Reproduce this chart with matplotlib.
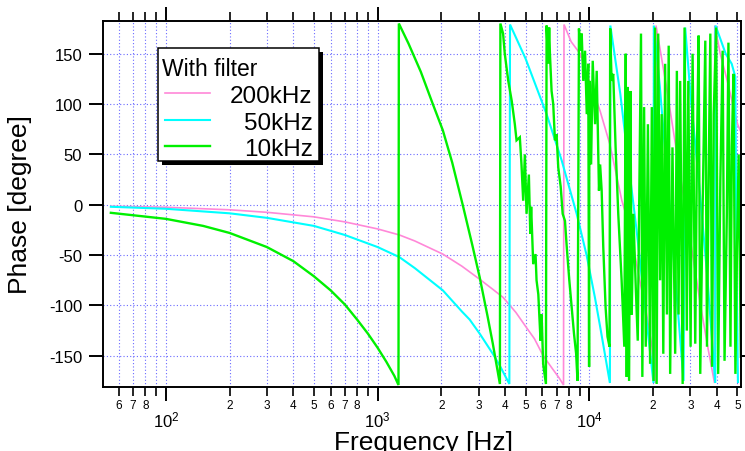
import numpy as np
import matplotlib
matplotlib.use("Agg")
import matplotlib.pyplot as plt
import matplotlib.ticker as ticker
from matplotlib.patches import Rectangle
from matplotlib.lines import Line2D

plt.rcParams["font.family"] = ["Liberation Sans", "DejaVu Sans"]
plt.rcParams["mathtext.fontset"] = "custom"
plt.rcParams["mathtext.rm"] = "Liberation Sans"
plt.rcParams["mathtext.it"] = "Liberation Sans:italic"
plt.rcParams["axes.unicode_minus"] = False

# ── Data ─────────────────────────────────────────────────────────────────────
pink_f = [55, 100, 200, 300, 500, 700, 1000, 1267, 1500, 2032, 2500, 3034, 3500,
          3913, 4500, 5046, 5500, 6053, 6700, 7200, 7550, 7590, 8200, 9040, 10000,
          11240, 12500, 14240, 15500, 17060, 18500, 19760, 20470, 20640, 23000,
          25500, 28000, 30500, 33500, 36500, 39000, 39100, 41500, 44800, 47500,
          50100, 52000]
pink_p = [-1.5, -2.5, -5, -7.5, -12, -17, -24, -30, -36, -49, -61, -74, -84,
          -92, -107, -122, -133, -150, -163, -172, -179, 179, 162, 150, 123,
          93, 60, 4, -22, -69, -105, -141, -177, 178, 120,
          60, 5, -45, -100, -145, -177, 178, 150, 123, 100,
          80, 72]

cyan_f = [55, 100, 200, 300, 500, 700, 1000, 1267, 1500, 2032, 2500, 2720, 3034,
          3500, 3780, 4190, 4220, 5000, 6280, 7400, 8710, 9700, 10620, 11240,
          12500, 12560, 14000, 15320, 16700, 18030, 20080, 20150, 21500, 23280,
          25500, 27850, 28350, 30000, 33000, 36000, 39300, 39400, 41500, 44000,
          47000, 48900, 49500, 50300]
cyan_p = [-2, -4, -8.5, -13, -21, -30, -42, -52, -63, -85, -106, -114, -128,
          -148, -160, -178, 179, 145, 90, 44, -9, -50, -92, -121,
          -177, 178, 110, 40, -25, -88, -177, 178, 118, 30,
          -75, -175, 176, 110, 20, -70, -177, 178, 165, 150,
          140, 127, -60, -176]

green_f = [55, 100, 150, 200, 300, 400, 500, 600, 700, 800, 900, 1000, 1100, 1200,
           1255, 1260, 1400, 1600, 1823, 2032, 2250, 2529, 2800, 3034, 3300, 3500,
           3746, 3780, 3800, 3913, 3986, 4140, 4300, 4446, 4530, 4695, 4780, 4870,
           4959, 5050, 5180, 5260, 5310, 5430, 5570, 5630, 5740, 5800, 5880, 5950,
           6050, 6235, 6280, 6390, 6460, 6512, 6630, 6750, 6877, 7000, 7130, 7320,
           7480, 7670, 7820, 8040, 8250, 8460, 8660, 8790, 8930, 9040, 9200, 9360,
           9540, 9720, 9880, 9970, 10000, 10190, 10370, 10640, 10830, 11100, 11240,
           11430, 11630, 11930, 12180, 12450, 12540, 12730, 12960, 13300, 13690,
           14200, 14620, 14850, 15010, 15180, 15400, 15620, 15850, 16130, 16560,
           16920, 17530, 17790, 18130, 18460, 18900, 19350, 19720, 20100, 20430,
           20780, 21140, 21580, 21950, 22340, 22790, 23240, 23690, 24070, 24680,
           25420, 25890, 26370, 26840, 27570, 28150, 28850, 29320, 30060, 30720,
           31620, 32220, 32800, 33390, 34230, 35270, 35920, 36560, 37250, 37950,
           38650, 39700, 40560, 41540, 42590, 43480, 44580, 45360, 46370, 47080,
           47900, 48930, 49800, 50690, 51920]
green_p = [-8, -14, -21, -28, -42, -56, -71, -85, -99, -114, -128, -142, -156, -170,
           -179, 180, 160, 132, 100, 74, 42, -1, -40, -72, -110, -138,
           -173, -178, 180, 170, 150, 123, 103, 80, 64, 67, 40, 4,
           50, -9, 30, -29, -2, -59, -49, -75, -89, -109, -135, -109,
           -158, -178, 178, 140, 176, 150, 113, 100, 64, 70, 37, 18,
           -9, -16, -42, -75, -102, -128, -148, -175, 175, 153, 170, 123,
           153, 90, 140, -161, 123, 40, 143, 80, 133, 14, 40,
           14, -42, -102, -131, -141, 175, 123, 130, 57, -9,
           -75, -141, 150, -171, 117, -175, 113, -109, -9, -82,
           -135, 170, -171, 97, -141, 80, -158, 97, -175, 176,
           -178, 170, -75, 90, -148, 140, -109, 158, -168, 57,
           -148, 133, -109, 123, -178, 176, -125, 123, -141, 150,
           -138, 57, 168, -168, -9, 163, -141, 24, 170, -161,
           90, 176, -168, 24, 153, -155, -9, 161, -141, 57,
           130, -168, -42, 50, -151]

labels = ["200kHz", "50kHz", "10kHz"]
colors = ["#ff88d8", "#00ffff", "#00f000"]
widths = [1.2, 1.5, 1.7]

# ── Figure ───────────────────────────────────────────────────────────────────
W, H = 745, 452
fig = plt.figure(figsize=(W / 100, H / 100), dpi=100)
ax = fig.add_axes([103 / W, 1 - 388 / H, (741 - 103) / W, (388 - 22) / H])

for f, p, c, lw in zip([pink_f, cyan_f, green_f], [pink_p, cyan_p, green_p], colors, widths):
    ax.plot(f, p, color=c, lw=lw, solid_joinstyle="miter")

ax.set_xscale("log")
ax.set_xlim(50.5, 52000)
ax.set_ylim(-181, 182.5)

ax.yaxis.set_major_locator(ticker.FixedLocator([-150, -100, -50, 0, 50, 100, 150]))
ax.xaxis.set_major_locator(ticker.LogLocator(base=10, numticks=10))
ax.xaxis.set_minor_locator(ticker.LogLocator(base=10, subs=np.arange(2, 10), numticks=20))


def minor_fmt(v, _):
    m = int(round(v / 10 ** np.floor(np.log10(v) + 1e-9)))
    return "" if m == 9 else str(m)


ax.xaxis.set_major_formatter(ticker.FuncFormatter(
    lambda v, _: r"$10^{%d}$" % int(round(np.log10(v)))))
ax.xaxis.set_minor_formatter(ticker.FuncFormatter(minor_fmt))

grid_kw = dict(color="#6a6aff", linestyle=(0, (1, 2)), linewidth=0.8)
ax.grid(True, axis="x", which="both", **grid_kw)
ax.grid(True, axis="y", which="major", **grid_kw)
ax.set_axisbelow(True)

for s in ax.spines.values():
    s.set_linewidth(1.4)

ax.tick_params(axis="y", which="major", direction="out", length=10, width=1.4,
               labelsize=12, pad=5, left=True, right=True)
ax.tick_params(axis="x", which="major", direction="out", length=10, width=1.4,
               labelsize=12, pad=6, top=True, bottom=True)
ax.tick_params(axis="x", which="minor", direction="out", length=6.5, width=1.2,
               labelsize=8.5, pad=2, top=True, bottom=True)

fig.text(424 / W, 1 - 431 / H, "Frequency [Hz]", fontsize=19, ha="center", va="top")
fig.text(8 / W, 1 - 205 / H, "Phase [degree]", fontsize=19, rotation=90,
         ha="left", va="center")

# ── Legend box (drawn by hand, right-aligned labels) ─────────────────────────
def fx(px):
    return px / W


def fy(py):
    return 1 - py / H


fig.patches.append(Rectangle((fx(161.5), fy(165.5)), fx(161), 113 / H, transform=fig.transFigure,
                             facecolor="black", edgecolor="black", lw=0, zorder=5))
fig.patches.append(Rectangle((fx(157.5), fy(161.5)), fx(161), 113 / H, transform=fig.transFigure,
                             facecolor="white", edgecolor="black", lw=1.1, zorder=6))
fig.text(fx(161.5), fy(76), "With filter", fontsize=16.5, ha="left", va="baseline", zorder=7)
for i, (lab, c, lw) in enumerate(zip(labels, colors, widths)):
    yl = 94.3 + i * 26.4
    fig.lines.append(Line2D([fx(165), fx(210)], [fy(yl), fy(yl)], color=c, lw=lw,
                            transform=fig.transFigure, zorder=7))
    fig.text(fx(312.5), fy(yl + 9), lab, fontsize=17.5, ha="right", va="baseline", zorder=7)

fig.savefig("out.png", dpi=100)
